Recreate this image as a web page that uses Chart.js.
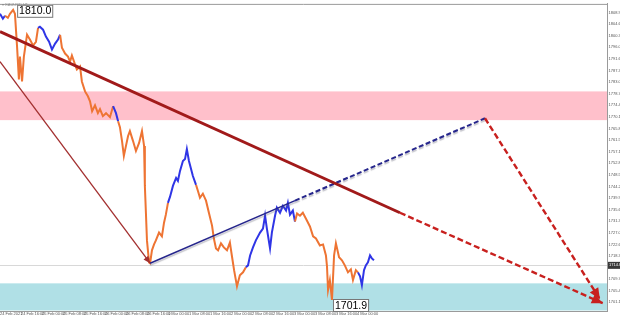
<!DOCTYPE html>
<html>
<head>
<meta charset="utf-8">
<script src="https://cdn.jsdelivr.net/npm/chart.js@4.4.1/dist/chart.umd.min.js"></script>
<style>
  html, body { margin: 0; padding: 0; background: #fff; }
  canvas { display: block; }
</style>
</head>
<body>
<canvas id="waveChart" width="620" height="322"></canvas>
<script>
// price path (hours from chart start)
const hours = [0, 1.1, 1.9, 3.0, 3.8, 5.0, 5.7, 6.5, 7.2, 7.6, 8.4, 9.1, 10.3, 11.4, 12.6, 13.7, 14.5, 15.2, 16.4, 17.5, 18.7, 19.8, 21.0, 22.1, 22.9,
  23.6, 24.8, 25.9, 26.7, 27.4, 28.6, 29.3, 30.5, 31.2, 32.4, 33.5, 34.3, 35.1, 36.2, 37.3, 38.1, 39.2, 40.4, 41.9,
  43.1, 44.2, 45.0,
  45.7, 46.5, 47.2, 48.0, 48.8, 49.5, 50.7, 51.8, 53.0, 54.1, 54.9, 55.2, 55.6, 56.0, 56.8, 57.2,
  57.9, 58.7, 59.4, 60.6, 61.7, 62.5, 63.2,
  64.0, 64.8, 65.9, 67.1, 67.8, 68.6, 69.7, 70.5, 71.2, 72.0, 72.8, 73.5, 74.7,
  75.4, 76.2, 77.3, 78.5, 79.6, 80.8, 81.5, 82.3, 83.1, 84.2, 85.3, 86.5, 87.6, 88.4, 89.2, 90.3, 91.4, 92.6,
  93.7, 94.5, 95.3, 96.4, 97.5, 99.1, 100.2, 101.0, 101.7, 102.9, 103.6, 104.8, 105.5, 106.7, 107.8, 109.0, 109.7, 110.5, 111.6, 112.4,
  113.2, 114.3, 115.4, 116.6, 118.1, 119.3, 120.4, 121.9, 123.1, 124.2, 124.6, 125.0, 125.7, 126.5, 127.3, 128.0, 129.2, 130.3, 131.4, 132.6, 133.7, 134.5, 135.6,
  136.4, 137.2, 137.9, 138.7, 139.4, 140.2, 141.0, 141.7, 142.5];
const prices = [1808.5, 1806.7, 1807.8, 1807.0, 1808.5, 1810.0, 1808.5, 1796.3, 1784.1, 1792.6, 1783.3, 1792.6, 1800.7, 1798.9, 1796.7, 1798.1, 1803.3, 1803.7, 1802.6, 1800.0, 1798.1, 1795.2, 1797.4, 1798.9, 1800.7,
  1795.9, 1793.7, 1792.6, 1790.7, 1793.0, 1789.6, 1787.8, 1788.9, 1783.3, 1779.6, 1777.8, 1775.9, 1772.2, 1774.4, 1771.5, 1773.0, 1770.4, 1771.5, 1770.0,
  1774.1, 1771.5, 1768.5,
  1766.3, 1761.1, 1755.6, 1759.3, 1763.0, 1764.8, 1761.1, 1757.4, 1760.4, 1764.8, 1759.3, 1744.4, 1734.4, 1724.1, 1715.9, 1715.6,
  1720.4, 1722.6, 1724.1, 1727.0, 1725.6, 1730.7, 1733.7,
  1738.1, 1740.4, 1744.4, 1747.4, 1746.3, 1750.0, 1753.7, 1754.4, 1758.1, 1753.7, 1750.7, 1748.1, 1744.8,
  1742.6, 1740.0, 1741.5, 1738.9, 1734.4, 1729.6, 1724.8, 1721.1, 1720.4, 1723.0, 1721.5, 1720.4, 1723.3, 1718.1, 1713.0, 1707.0, 1711.1, 1712.2,
  1714.1, 1714.8, 1718.5, 1721.5, 1724.1, 1727.0, 1728.5, 1733.3, 1728.5, 1721.1, 1727.0, 1733.3, 1736.3, 1734.4, 1737.0, 1735.2, 1738.1, 1733.7, 1735.2, 1731.1,
  1734.1, 1733.3, 1734.4, 1732.2, 1729.3, 1725.6, 1724.8, 1722.2, 1722.6, 1718.5, 1714.4, 1705.6, 1709.3, 1701.9, 1718.5, 1723.0, 1717.8, 1716.7, 1714.8, 1712.2, 1713.3, 1709.3, 1713.0,
  1712.2, 1710.7, 1707.4, 1713.0, 1714.8, 1715.9, 1718.5, 1717.4, 1716.7];
// stretches of the path drawn in blue
const blueParts = [[0, 1.9], [14.5, 22.9], [43.1, 45.0], [64.0, 74.7], [93.7, 112.4], [136.4, 142.5]];

// wave lines [hour, price]
const mainTrend = [[0, 1801.9], [152.4, 1734.4]];
const mainTrendNext = [[152.4, 1734.4], [229.7, 1700.7]];
const firstLeg = [[0, 1790.7], [57.2, 1715.6]];
const secondLeg = [[57.2, 1715.6], [112.4, 1738.9]];
const secondLegNext = [[112.4, 1738.9], [184.8, 1769.6]];
const thirdLegNext = [[184.8, 1769.6], [228.6, 1702.2]];

const resistZone = [1768.9, 1779.6];
const supportZone = [1698.0, 1708.1];
const lastPrice = 1714.8;
const highMark = [5.0, 1810.0];
const lowMark = [126.5, 1701.9];

const yTicks = [1808.9, 1804.6, 1800.3, 1796.0, 1791.6, 1787.3, 1783.0, 1778.7, 1774.4, 1770.1, 1765.8, 1761.5, 1757.1,
  1752.8, 1748.5, 1744.2, 1739.9, 1735.6, 1731.3, 1727.0, 1722.6, 1718.3, 1709.7, 1705.4, 1701.1];
const xTickHours = [0, 8, 16, 24, 32, 40, 48, 56, 64, 72, 80, 88, 96, 104, 112, 120, 128, 136];
const xTickLabels = ["24 Feb 2021", "24 Feb 16:00", "25 Feb 00:00", "25 Feb 08:00", "25 Feb 16:00", "26 Feb 00:00",
  "26 Feb 08:00", "26 Feb 16:00", "1 Mar 00:00", "1 Mar 08:00", "1 Mar 16:00", "2 Mar 00:00", "2 Mar 08:00",
  "2 Mar 16:00", "3 Mar 00:00", "3 Mar 08:00", "3 Mar 16:00", "4 Mar 00:00"];

const ORANGE = "#EE7433", BLUE = "#2F35E6";
const FONT = "'Liberation Sans', Arial, sans-serif";

function toPoints(arr) {
  return arr.map(p => ({ x: p[0], y: p[1] }));
}
function isBlue(a, b) {
  return blueParts.some(r => a >= r[0] - 0.01 && b <= r[1] + 0.01);
}
function waveLine(pts, color, width, dash, extra) {
  return Object.assign({
    data: toPoints(pts), borderColor: color, borderWidth: width, borderDash: dash || [],
    pointRadius: 0, fill: false, tension: 0
  }, extra || {});
}

function drawArrow(ctx, p0, p1, len, half, color) {
  const a = Math.atan2(p1.y - p0.y, p1.x - p0.x);
  ctx.fillStyle = color;
  ctx.beginPath();
  ctx.moveTo(p1.x, p1.y);
  ctx.lineTo(p1.x - len * Math.cos(a) + half * Math.sin(a), p1.y - len * Math.sin(a) - half * Math.cos(a));
  ctx.lineTo(p1.x - len * Math.cos(a) - half * Math.sin(a), p1.y - len * Math.sin(a) + half * Math.cos(a));
  ctx.closePath();
  ctx.fill();
}

function priceBox(ctx, text, x, y) {
  ctx.font = "10.5px " + FONT;
  const w = ctx.measureText(text).width + 3;
  ctx.fillStyle = "#fff";
  ctx.fillRect(x, y, w, 12);
  ctx.strokeStyle = "#777";
  ctx.lineWidth = 1;
  ctx.strokeRect(x + 0.5, y + 0.5, w, 12);
  ctx.fillStyle = "#000";
  ctx.textAlign = "left";
  ctx.textBaseline = "middle";
  ctx.fillText(text, x + 2, y + 6.8);
}

const chartDecor = {
  id: "chartDecor",
  beforeDatasetsDraw(chart) {
    const { ctx, chartArea: a, scales: { x, y } } = chart;
    ctx.save();
    let t = y.getPixelForValue(resistZone[1]), b = y.getPixelForValue(resistZone[0]);
    ctx.fillStyle = "#FFC0CB";
    ctx.fillRect(a.left, t, a.right - a.left, b - t);
    t = y.getPixelForValue(supportZone[1]); b = y.getPixelForValue(supportZone[0]);
    ctx.fillStyle = "#B0E0E6";
    ctx.fillRect(a.left, t, a.right - a.left, b - t);
    const py = Math.round(y.getPixelForValue(lastPrice)) + 0.5;
    ctx.strokeStyle = "#d8d8d8";
    ctx.lineWidth = 1;
    ctx.beginPath(); ctx.moveTo(a.left, py); ctx.lineTo(a.right, py); ctx.stroke();
    ctx.strokeStyle = "#9a9a9a";
    ctx.beginPath(); ctx.moveTo(a.left, a.top + 0.5); ctx.lineTo(a.right, a.top + 0.5); ctx.stroke();
    ctx.restore();
  },
  beforeDatasetDraw(chart, args) {
    const ds = chart.data.datasets[args.index];
    chart.ctx.save();
    if (ds.shadow) {
      chart.ctx.shadowColor = "rgba(90,90,110,0.35)";
      chart.ctx.shadowOffsetY = 2;
      chart.ctx.shadowBlur = 1;
    }
  },
  afterDatasetDraw(chart) {
    chart.ctx.restore();
  },
  afterDatasetsDraw(chart) {
    const { ctx, chartArea: a, scales: { x, y } } = chart;
    ctx.save();
    chart.data.datasets.forEach((ds, i) => {
      if (!ds.arrow) return;
      const pts = chart.getDatasetMeta(i).data;
      drawArrow(ctx, pts[pts.length - 2], pts[pts.length - 1], ds.arrow[0], ds.arrow[1], ds.arrowColor || ds.borderColor);
    });
    priceBox(ctx, highMark[1].toFixed(1), x.getPixelForValue(highMark[0]) + 4, y.getPixelForValue(highMark[1]) - 5);
    priceBox(ctx, lowMark[1].toFixed(1), x.getPixelForValue(lowMark[0]) + 1, y.getPixelForValue(lowMark[1]) - 1);
    // current price tag on the axis
    const py = y.getPixelForValue(lastPrice);
    ctx.fillStyle = "#3a3a3a";
    ctx.fillRect(a.right + 1, py - 3.5, 12, 7);
    ctx.fillStyle = "#fff";
    ctx.font = "4px " + FONT;
    ctx.textAlign = "left";
    ctx.textBaseline = "middle";
    ctx.fillText(lastPrice.toFixed(1), a.right + 2, py);
    // symbol caption
    ctx.fillStyle = "#888";
    ctx.fillText("\u25BE XAUUSD,H1", 2, 5);
    ctx.restore();
  }
};

new Chart(document.getElementById("waveChart"), {
  type: "line",
  data: {
    datasets: [
      waveLine(thirdLegNext, "#C8201E", 2.4, [6, 3], { arrow: [11, 5] }),
      waveLine(mainTrendNext, "#C8201E", 2.4, [6, 3], { arrow: [11, 5] }),
      waveLine(mainTrend, "#A11A1A", 3),
      waveLine(secondLegNext, "#26268C", 2, [5, 2.5], { shadow: true }),
      waveLine(secondLeg, "#26268C", 1.5, [], { shadow: true }),
      waveLine(firstLeg, "#A33030", 1.3, [], { arrow: [7, 3] }),
      {
        data: hours.map((h, i) => ({ x: h, y: prices[i] })),
        borderColor: ORANGE,
        borderWidth: 2,
        pointRadius: 0,
        tension: 0,
        segment: {
          borderColor: c => isBlue(c.p0.parsed.x, c.p1.parsed.x) ? BLUE : ORANGE
        }
      }
    ]
  },
  options: {
    responsive: false,
    animation: false,
    layout: { padding: { top: 2, left: 0, right: 0, bottom: 0 } },
    plugins: { legend: { display: false }, tooltip: { enabled: false } },
    scales: {
      x: {
        type: "linear",
        min: 0,
        max: 231.3,
        grid: { display: false, drawTicks: false },
        border: { display: true, color: "#9a9a9a" },
        afterBuildTicks: s => { s.ticks = xTickHours.map(v => ({ value: v })); },
        afterFit: s => { s.height = 11; },
        ticks: {
          autoSkip: false,
          maxRotation: 0,
          align: "start",
          padding: 0,
          color: "#555",
          font: { size: 4, family: FONT },
          callback: (v, i) => xTickLabels[i]
        }
      },
      y: {
        position: "right",
        min: 1697.8,
        max: 1812.2,
        grid: { display: false, drawTicks: false },
        border: { display: true, color: "#9a9a9a" },
        afterBuildTicks: s => { s.ticks = yTicks.map(v => ({ value: v })); },
        afterFit: s => { s.width = 13; },
        ticks: {
          autoSkip: false,
          padding: 1.5,
          color: "#555",
          font: { size: 4, family: FONT },
          callback: v => v.toFixed(1)
        }
      }
    }
  },
  plugins: [chartDecor]
});
</script>
</body>
</html>
